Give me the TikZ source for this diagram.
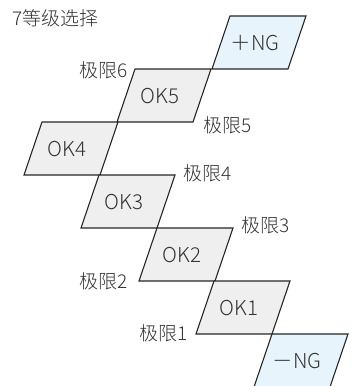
\documentclass[tikz,border=0pt]{standalone}
\usepackage{fontspec}
\setmainfont{Noto Sans CJK SC}[UprightFont={* Light}]
\usetikzlibrary{calc}
\definecolor{okgray}{HTML}{EFEFEF}
\definecolor{ngblue}{HTML}{E8F4FC}
\tikzset{
	okbox/.style={fill=okgray, draw=black!85, line width=1.1pt, line join=miter},
	ngbox/.style={okbox, fill=ngblue},
	grade/.style={inner sep=0pt, text=black!80, font=\fontsize{20.5}{24}\selectfont},
	limit/.style={inner sep=0pt, text=black!80, font=\fontsize{19}{22}\selectfont}
}
\begin{document}
\begin{tikzpicture}[x=1pt,y=-1pt]
	\useasboundingbox (0,0) rectangle (355,386);
	% Top-left corners of the grade boxes
	\coordinate (ngp) at (230,16);
	\coordinate (ok5) at (135,69);
	\coordinate (ok4) at (42,122);
	\coordinate (ok3) at (99,175);
	\coordinate (ok2) at (157,228);
	\coordinate (ok1) at (214,281);
	\coordinate (ngm) at (272,334);
	% Draw the grade boxes
	\filldraw[ngbox] (ngp) -- ++(76,0) -- ++(-18,53) -- ++(-76,0) -- cycle;
	\filldraw[okbox] (ok5) -- ++(76,0) -- ++(-18,53) -- ++(-76,0) -- cycle;
	\filldraw[okbox] (ok4) -- ++(76,0) -- ++(-18,53) -- ++(-76,0) -- cycle;
	\filldraw[okbox] (ok3) -- ++(76,0) -- ++(-18,53) -- ++(-76,0) -- cycle;
	\filldraw[okbox] (ok2) -- ++(76,0) -- ++(-18,53) -- ++(-76,0) -- cycle;
	\filldraw[okbox] (ok1) -- ++(76,0) -- ++(-18,53) -- ++(-76,0) -- cycle;
	\filldraw[ngbox] (ngm) -- ++(76,0) -- ++(-18,53) -- ++(-76,0) -- cycle;
	% Label the grades
	\node[grade] (tngp) at ($(ngp)+(25,27)$) {＋NG};
	\node[grade] (tok5) at ($(ok5)+(25,27)$) {OK5};
	\node[grade] (tok4) at ($(ok4)+(25,27)$) {OK4};
	\node[grade] (tok3) at ($(ok3)+(25,27)$) {OK3};
	\node[grade] (tok2) at ($(ok2)+(25,27)$) {OK2};
	\node[grade] (tok1) at ($(ok1)+(25,27)$) {OK1};
	\node[grade] (tngm) at ($(ngm)+(25,27)$) {－NG};
	% Title and limit labels
	\node[limit, anchor=west] (title) at (12,18) {7等级选择};
	\node[limit, anchor=east] (lim6) at ($(ok5)+(-7,1)$) {极限6};
	\node[limit, anchor=west] (lim5) at ($(ok4)+(161,3)$) {极限5};
	\node[limit, anchor=west] (lim4) at ($(ok3)+(84,-2)$) {极限4};
	\node[limit, anchor=west] (lim3) at ($(ok2)+(84,-3)$) {极限3};
	\node[limit, anchor=east] (lim2) at ($(ok2)+(-29,53)$) {极限2};
	\node[limit, anchor=east] (lim1) at ($(ok1)+(-26,52)$) {极限1};
\end{tikzpicture}
\end{document}
